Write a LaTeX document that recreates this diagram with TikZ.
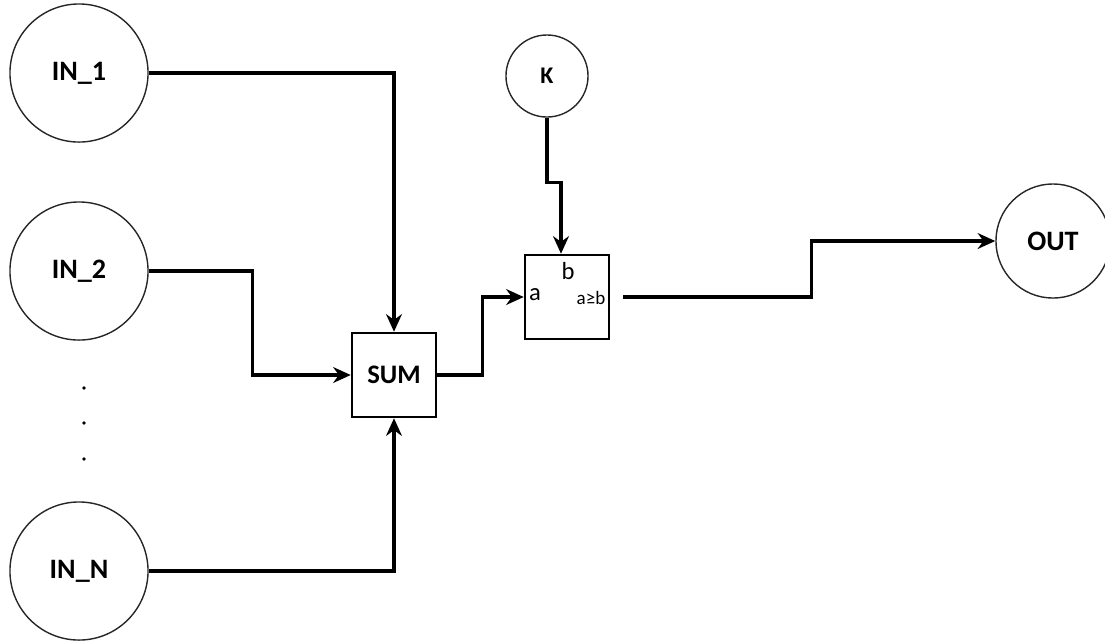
\documentclass[tikz,border=0pt]{standalone}
\usepackage{fontspec}
\setmainfont{Carlito}
\usetikzlibrary{arrows.meta}

\tikzset{
  port/.style={draw=black!85, circle, line width=0.4pt, inner sep=0pt,
    font=\fontsize{8}{9}\selectfont\bfseries},
  block/.style={draw, rectangle, line width=0.7pt, inner sep=0pt,
    minimum size=0.84cm},
  conn/.style={line width=0.9pt, -{Stealth[length=5pt,width=4.5pt]}}
}

\begin{document}
\begin{tikzpicture}[x=0.01cm, y=-0.01cm]
\useasboundingbox (0,0) rectangle (1105,641);
% inputs and outputs
\node[port, minimum size=1.38cm] (in1) at (79,73) {IN\_1};
\node[port, minimum size=1.38cm] (in2) at (79,271) {IN\_2};
\node[port, minimum size=1.38cm] (inN) at (79,571) {IN\_N};
\node[port, minimum size=0.82cm, font=\fontsize{6.8}{8}\selectfont\bfseries] (k) at (547,76) {K};
\node[port, minimum size=1.14cm] (out) at (1053,241) {OUT};
\foreach \y in {388,423,459}
  \fill (84,\y) circle (0.55pt);
% blocks
\node[block, font=\fontsize{7.6}{9}\selectfont\bfseries] (sum) at (394,375) {SUM};
\node[block] (cmp) at (567,297) {};
\node[font=\fontsize{7}{8}\selectfont] (cmpb) at (568,271) {b};
\node[font=\fontsize{7}{8}\selectfont] (cmpa) at (535,295) {a};
\node[font=\fontsize{5.4}{6}\selectfont] (cmpo) at (591,298) {a≥b};
% connectors
\draw[conn] (in1.east) -| (sum.north);
\draw[conn] (in2.east) -- ++(104,0) |- (sum.west);
\draw[conn] (inN.east) -| (sum.south);
\draw[conn] (sum.east) -- ++(45,0) |- (cmp.west);
\draw[conn] (k.south) -- ++(0,65) -| ([xshift=-0.06cm]cmp.north);
\draw[conn] ([xshift=0.13cm]cmp.east) -- ++(188,0) |- (out.west);
\end{tikzpicture}
\end{document}
